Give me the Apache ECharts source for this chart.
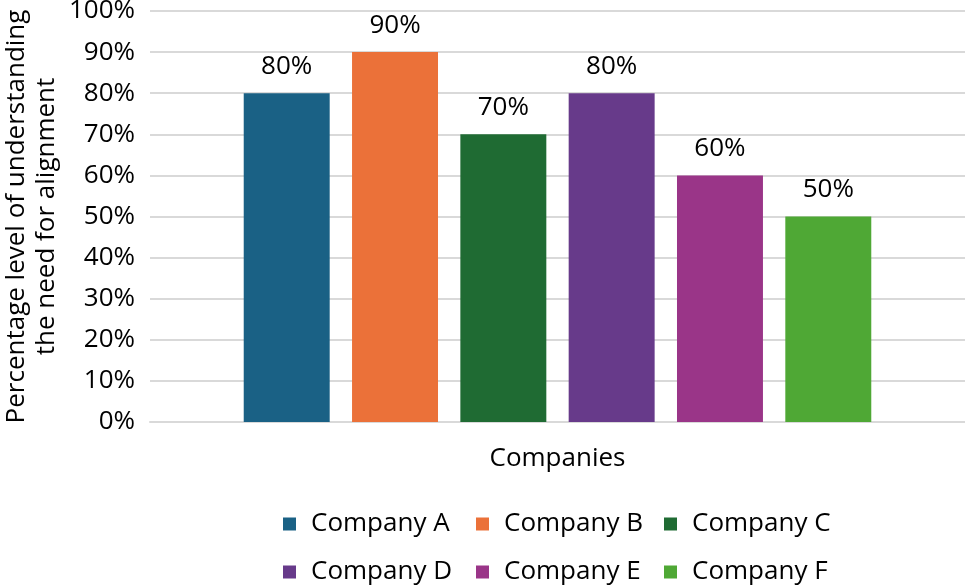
<!DOCTYPE html>
<html><head><meta charset="utf-8">
<script src="https://cdn.jsdelivr.net/npm/echarts@6/dist/echarts.min.js"></script>
<style>html,body{margin:0;padding:0;background:#fff}#c{width:965px;height:587px}</style>
</head><body><div id="c"></div>
<script>
const categories = ["Companies"];
const companies = ["Company A","Company B","Company C","Company D","Company E","Company F"];
const values = [80, 90, 70, 80, 60, 50];
const colors = ["#1a6185","#eb7139","#1f6b33","#673a8a","#9a3588","#4fa835"];
const yTicks = [0,10,20,30,40,50,60,70,80,90,100];

const FONT = "Open Sans";
const FS = 26;
const chart = echarts.init(document.getElementById('c'));
const series = companies.map((name, i) => ({
  name: name,
  type: 'bar',
  data: [values[i]],
  itemStyle: { color: colors[i] },
  barGap: '26%',
  barCategoryGap: '23%',
  label: { show: true, position: 'top', distance: 14, formatter: p => p.value + '%',
           color: '#000', fontSize: FS, fontFamily: FONT }
}));
const legendText = { color: '#000', fontSize: FS, fontFamily: FONT, padding: [0,0,0,10] };
const colLeft = [278, 471, 659];
const rowTop = [506, 554];
const legends = companies.map((name, i) => ({
  data: [name], left: colLeft[i % 3], top: rowTop[Math.floor(i / 3)],
  itemWidth: 13, itemHeight: 13, icon: 'rect', textStyle: legendText
}));
chart.setOption({
  animation: false,
  textStyle: { fontFamily: FONT },
  grid: { left: 150, right: 0, top: 11, bottom: 165, outerBoundsMode: 'none', containLabel: false },
  xAxis: {
    type: 'category', data: categories,
    axisLine: { show: true, lineStyle: { color: '#d9d9d9', width: 2 } },
    axisTick: { show: false },
    axisLabel: { color: '#000', fontSize: FS, fontFamily: FONT, margin: 24 }
  },
  yAxis: {
    type: 'value', min: 0, max: 100, interval: 10,
    name: 'Percentage level of understanding\nthe need for alignment',
    nameLocation: 'middle', nameRotate: 90, nameGap: 88, nameMoveOverlap: false,
    nameTextStyle: { color: '#000', fontSize: FS, fontFamily: FONT, lineHeight: 30 },
    axisLine: { show: false }, axisTick: { show: false },
    axisLabel: { color: '#000', fontSize: FS, fontFamily: FONT, margin: 15,
                 formatter: v => yTicks.includes(v) ? v + '%' : '' },
    splitLine: { lineStyle: { color: '#d9d9d9', width: 2 } }
  },
  legend: legends,
  series: series
});
</script></body></html>
